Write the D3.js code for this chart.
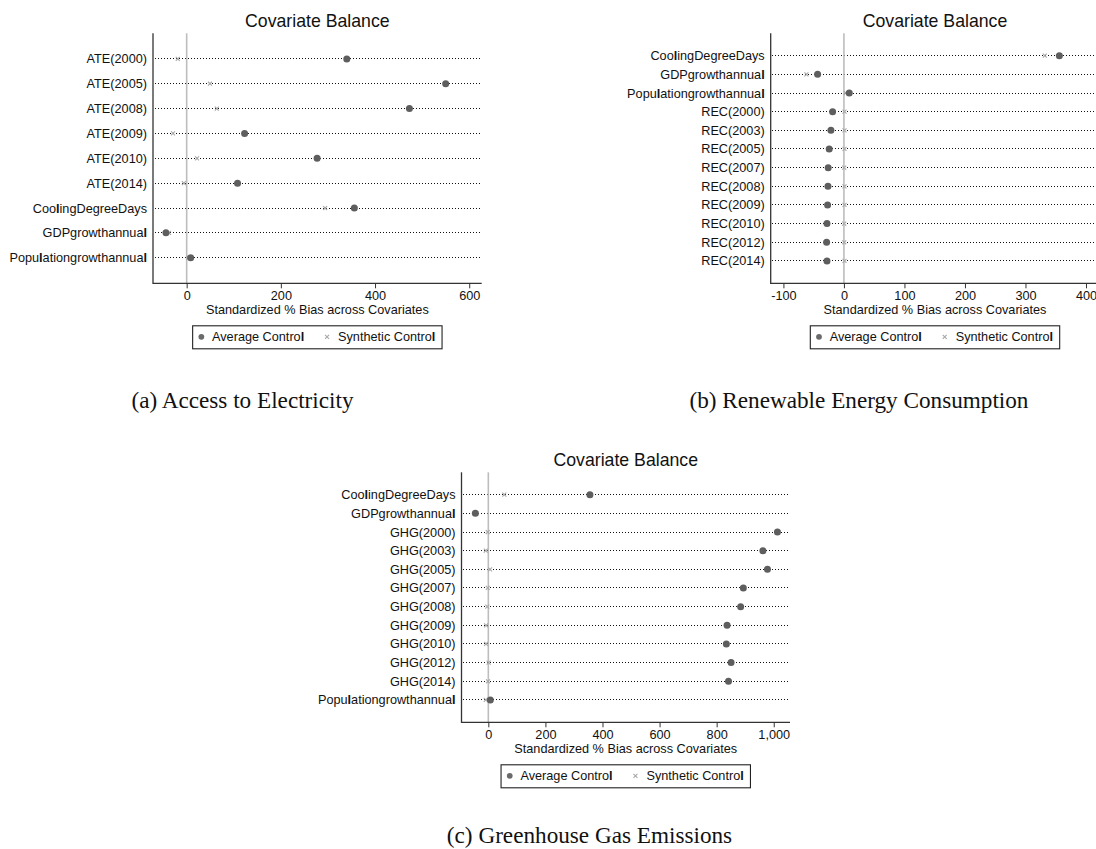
<!DOCTYPE html>
<html>
<head>
<meta charset="utf-8">
<script src="https://cdn.jsdelivr.net/npm/d3@7"></script>
<style>
  html, body { margin: 0; padding: 0; background: #fff; }
  svg { display: block; }
</style>
</head>
<body>
<svg id="chart" width="1096" height="849"></svg>
<script>
// ---- Data: standardized % bias per covariate ----
// (a) Access to Electricity
const aCovariates = ["ATE(2000)", "ATE(2005)", "ATE(2008)", "ATE(2009)", "ATE(2010)", "ATE(2014)",
  "CoolingDegreeDays", "GDPgrowthannual", "Populationgrowthannual"];
const aAverage   = [340, 550, 473, 123, 277, 108, 356, -44, 8.5];
const aSynthetic = [-19, 49.5, 64, -29, 22, -6, 294, -37.5, 4];
const aTicks = [0, 200, 400, 600];

// (b) Renewable Energy Consumption
const bCovariates = ["CoolingDegreeDays", "GDPgrowthannual", "Populationgrowthannual",
  "REC(2000)", "REC(2003)", "REC(2005)", "REC(2007)", "REC(2008)", "REC(2009)",
  "REC(2010)", "REC(2012)", "REC(2014)"];
const bAverage   = [356, -43.5, 8.8, -18.7, -21.5, -24.3, -26, -26.4, -27, -28, -28.6, -28];
const bSynthetic = [332, -62, 3, 1, 1, 1, 0.5, 1, 1, 0.5, 0.5, 1];
const bTicks = [-100, 0, 100, 200, 300, 400];

// (c) Greenhouse Gas Emissions
const cCovariates = ["CoolingDegreeDays", "GDPgrowthannual", "GHG(2000)", "GHG(2003)", "GHG(2005)",
  "GHG(2007)", "GHG(2008)", "GHG(2009)", "GHG(2010)", "GHG(2012)", "GHG(2014)",
  "Populationgrowthannual"];
const cAverage   = [356, -45.5, 1013, 962, 978, 893.5, 884, 836.5, 834, 850.5, 841.5, 7];
const cSynthetic = [56, -42, -2, -9, 6, -2, -3.5, -8, -8, 1, -1, -9];
const cTicks = [0, 200, 400, 600, 800, 1000];

const chartTitle = "Covariate Balance";
const xAxisTitle = "Standardized % Bias across Covariates";
const legendLabels = ["Average Control", "Synthetic Control"];
const captions = ["(a) Access to Electricity", "(b) Renewable Energy Consumption", "(c) Greenhouse Gas Emissions"];

// ---- Layout of the three panels ----
const panels = [
  { covariates: aCovariates, average: aAverage, synthetic: aSynthetic, ticks: aTicks,
    domain: [-71.5, 626.5], x0: 153, x1: 481.7, y0: 33.3, y1: 283.3, pad: 1.03,
    caption: captions[0], capX: 242.5, capY: 408 },
  { covariates: bCovariates, average: bAverage, synthetic: bSynthetic, ticks: bTicks,
    domain: [-121, 422], x0: 770.7, x1: 1099.3, y0: 33.3, y1: 283.3, pad: 1.2,
    caption: captions[1], capX: 859, capY: 408 },
  { covariates: cCovariates, average: cAverage, synthetic: cSynthetic, ticks: cTicks,
    domain: [-94, 1057], x0: 461.5, x1: 790, y0: 472.3, y1: 722.3, pad: 1.2,
    caption: captions[2], capX: 589.5, capY: 843 }
];

const SANS = "'Liberation Sans', Arial, Helvetica, sans-serif";
const SERIF = "'Liberation Serif', 'Times New Roman', Times, serif";
const FS = 12.7;
const avgColor = "#5e5e5e";
const synColor = "#a8a8a8";

const svg = d3.select("#chart");

// Write a label; the small-size renderer draws the letter "l" heavily, so it gets its own bold tspan.
function setLabel(sel, str) {
  const parts = str.split(/(l)/);
  parts.forEach(p => {
    if (!p) return;
    const t = sel.append("tspan").text(p);
    if (p === "l") t.attr("font-weight", "bold");
  });
}

// Tick numbers with thousands separators and a plain hyphen for negatives
const tickFmt = v => d3.format(",")(v).replace("\u2212", "-");

const crossSymbol = d3.symbol().type(d3.symbolTimes).size(12);

panels.forEach(p => {
  const g = svg.append("g");
  const x = d3.scaleLinear().domain(p.domain).range([p.x0, p.x1]);
  const y = d3.scalePoint().domain(p.covariates).range([p.y0, p.y1]).padding(p.pad);
  const cx = (p.x0 + p.x1) / 2;

  const rows = p.covariates.map((c, i) => ({ c, avg: p.average[i], syn: p.synthetic[i] }));

  // dotted row guides
  g.selectAll("line.row").data(rows).join("line")
    .attr("class", "row")
    .attr("x1", p.x0 + 1.5).attr("x2", p.x1 - 2)
    .attr("y1", d => y(d.c)).attr("y2", d => y(d.c))
    .attr("stroke", "#111").attr("stroke-width", 1)
    .attr("stroke-dasharray", "1,2")
    .attr("shape-rendering", "crispEdges");

  // reference line at zero bias
  g.append("line")
    .attr("x1", x(0)).attr("x2", x(0))
    .attr("y1", p.y0).attr("y2", p.y1)
    .attr("stroke", "#bdbdbd").attr("stroke-width", 1.6);

  // x axis
  const axis = d3.axisBottom(x).tickValues(p.ticks).tickSize(5).tickPadding(2)
    .tickFormat(tickFmt);
  const ax = g.append("g").attr("transform", `translate(0,${p.y1})`).call(axis);
  ax.select(".domain").attr("stroke", "#333").attr("stroke-width", 1.2)
    .attr("d", `M${p.x0},0H${p.x1}`);
  ax.selectAll(".tick line").attr("stroke", "#333").attr("stroke-width", 1);
  ax.selectAll(".tick text")
    .attr("font-family", SANS).attr("font-size", FS).attr("fill", "#111")
    .attr("dy", null).attr("y", 17.2);

  // y axis line
  g.append("line")
    .attr("x1", p.x0).attr("x2", p.x0)
    .attr("y1", p.y0).attr("y2", p.y1 + 0.6)
    .attr("stroke", "#333").attr("stroke-width", 1.3);

  // covariate labels
  g.selectAll("text.cov").data(rows).join("text")
    .attr("class", "cov")
    .attr("x", p.x0 - 6).attr("y", d => y(d.c) + 4.5)
    .attr("text-anchor", "end")
    .attr("font-family", SANS).attr("font-size", FS).attr("fill", "#111")
    .each(function(d) { setLabel(d3.select(this), d.c); });

  // synthetic control markers
  g.selectAll("path.syn").data(rows).join("path")
    .attr("class", "syn")
    .attr("d", crossSymbol)
    .attr("transform", d => `translate(${x(d.syn)},${y(d.c)})`)
    .attr("fill", "none").attr("stroke", synColor).attr("stroke-width", 1.1);

  // average control markers
  g.selectAll("circle.avg").data(rows).join("circle")
    .attr("class", "avg")
    .attr("cx", d => x(d.avg)).attr("cy", d => y(d.c))
    .attr("r", 3.5).attr("fill", avgColor);

  // title
  g.append("text")
    .attr("x", cx).attr("y", p.y0 - 6.8)
    .attr("text-anchor", "middle")
    .attr("font-family", SANS).attr("font-size", 17.7).attr("fill", "#111")
    .text(chartTitle);

  // x axis title
  g.append("text")
    .attr("x", cx).attr("y", p.y1 + 30.3)
    .attr("text-anchor", "middle")
    .attr("font-family", SANS).attr("font-size", FS).attr("fill", "#111")
    .text(xAxisTitle);

  // legend
  const lx = cx - 124.7, ly = p.y1 + 42.5;
  const lg = g.append("g").attr("transform", `translate(${lx},${ly})`);
  lg.append("rect").attr("width", 249.4).attr("height", 23)
    .attr("fill", "#fff").attr("stroke", "#222").attr("stroke-width", 1.1);
  lg.append("circle").attr("cx", 8.7).attr("cy", 11).attr("r", 2.9).attr("fill", "#6a6a6a");
  lg.append("text").attr("x", 19.4).attr("y", 15.6)
    .attr("font-family", SANS).attr("font-size", FS).attr("fill", "#111")
    .call(s => setLabel(s, legendLabels[0]));
  lg.append("path").attr("d", crossSymbol)
    .attr("transform", "translate(134.4,11)")
    .attr("fill", "none").attr("stroke", synColor).attr("stroke-width", 1.1);
  lg.append("text").attr("x", 145.4).attr("y", 15.6)
    .attr("font-family", SANS).attr("font-size", FS).attr("fill", "#111")
    .call(s => setLabel(s, legendLabels[1]));

  // caption under the panel
  svg.append("text")
    .attr("x", p.capX).attr("y", p.capY)
    .attr("text-anchor", "middle")
    .attr("font-family", SERIF).attr("font-size", 23.2).attr("fill", "#111")
    .text(p.caption);
});
</script>
</body>
</html>
